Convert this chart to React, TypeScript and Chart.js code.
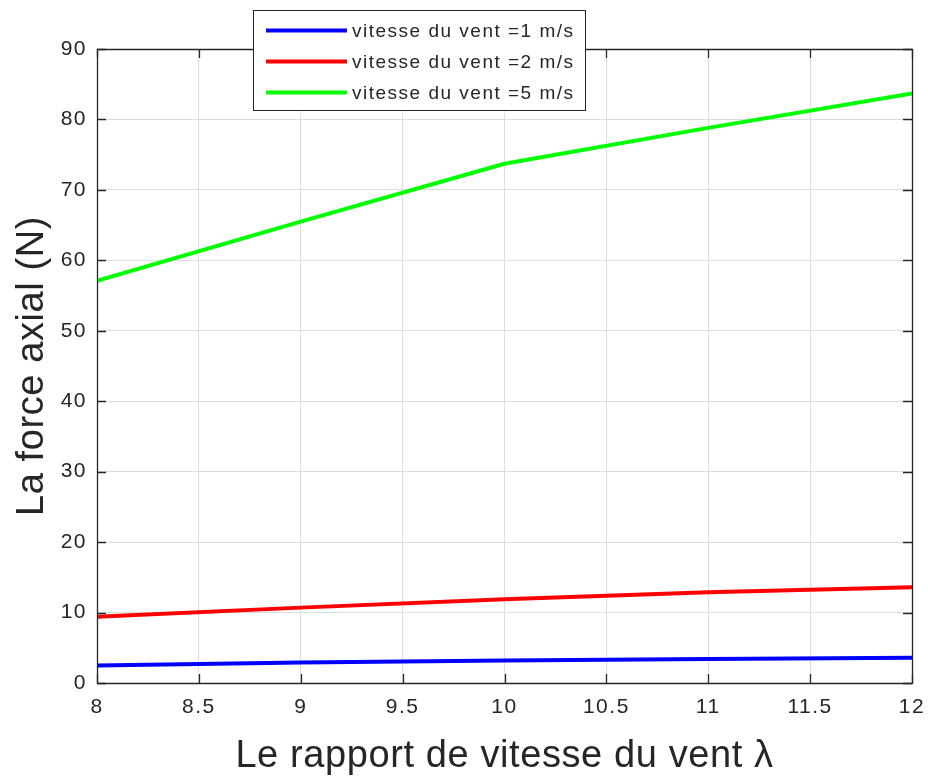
import React, { useEffect, useRef } from "react";
import { Chart, registerables } from "chart.js";

Chart.register(...registerables);

const lambdaValues = [8, 9, 10, 11, 12];
const force1 = [2.5, 2.9, 3.2, 3.4, 3.6];
const force2 = [9.4, 10.7, 11.9, 12.9, 13.6];
const force5 = [57.1, 65.5, 73.7, 78.8, 83.7];
const seriesLabels = ["vitesse du vent =1 m/s", "vitesse du vent =2 m/s", "vitesse du vent =5 m/s"];
const seriesColors = ["#0000ff", "#ff0000", "#00ff00"];
const xTitle = "Le rapport de vitesse du vent λ";
const yTitle = "La force axial (N)";

const FONT = "'Liberation Sans', Arial, Helvetica, sans-serif";
const TEXT = "#262626";

const boxPlugin = {
  id: "matlabBox",
  beforeDraw(chart: any) {
    (chart.ctx as any).letterSpacing = "1.5px";
  },
  afterDraw(chart: any) {
    const { ctx, chartArea } = chart;
    const { left, right, top, bottom } = chartArea;
    const xs = chart.scales.x;
    const ys = chart.scales.y;
    const tl = 9;
    ctx.save();
    ctx.strokeStyle = TEXT;
    ctx.lineWidth = 1.3;
    ctx.beginPath();
    ctx.rect(Math.round(left) + 0.5, Math.round(top) + 0.5, Math.round(right - left), Math.round(bottom - top));
    ctx.stroke();
    ctx.beginPath();
    xs.ticks.forEach((t: any) => {
      const px = Math.round(xs.getPixelForValue(t.value)) + 0.5;
      ctx.moveTo(px, bottom);
      ctx.lineTo(px, bottom - tl);
      ctx.moveTo(px, top);
      ctx.lineTo(px, top + tl);
    });
    ys.ticks.forEach((t: any) => {
      const py = Math.round(ys.getPixelForValue(t.value)) + 0.5;
      ctx.moveTo(left, py);
      ctx.lineTo(left + tl, py);
      ctx.moveTo(right, py);
      ctx.lineTo(right - tl, py);
    });
    ctx.stroke();

    // axis titles
    (ctx as any).letterSpacing = "0.6px";
    ctx.fillStyle = TEXT;
    ctx.font = `38px ${FONT}`;
    ctx.textAlign = "center";
    ctx.textBaseline = "alphabetic";
    ctx.fillText(xTitle, (left + right) / 2, 767);
    ctx.save();
    ctx.translate(43, (top + bottom) / 2);
    ctx.rotate(-Math.PI / 2);
    ctx.fillText(yTitle, 0, 0);
    ctx.restore();

    // legend
    const bx = 253, by = 10, bw = 332, bh = 100;
    ctx.fillStyle = "#ffffff";
    ctx.fillRect(bx, by, bw, bh);
    ctx.strokeStyle = TEXT;
    ctx.lineWidth = 1;
    ctx.strokeRect(bx + 0.5, by + 0.5, bw, bh);
    const rows = [30.5, 61.5, 92.5];
    (ctx as any).letterSpacing = "1.5px";
    chart.data.datasets.forEach((ds: any, i: number) => {
      ctx.strokeStyle = ds.borderColor;
      ctx.lineWidth = 4;
      ctx.beginPath();
      ctx.moveTo(266, rows[i]);
      ctx.lineTo(347, rows[i]);
      ctx.stroke();
      ctx.fillStyle = TEXT;
      ctx.font = `19px ${FONT}`;
      ctx.textBaseline = "middle";
      ctx.textAlign = "left";
      ctx.fillText(ds.label, 352, rows[i] + 1);
    });
    ctx.restore();
  },
};

export default function App() {
  const ref = useRef<HTMLCanvasElement>(null);
  useEffect(() => {
    document.body.style.margin = "0";
    const datasets = [force1, force2, force5].map((d, i) => ({
      label: seriesLabels[i],
      data: d.map((v, j) => ({ x: lambdaValues[j], y: v })),
      borderColor: seriesColors[i],
      backgroundColor: seriesColors[i],
      borderWidth: 4,
      pointRadius: 0,
      tension: 0,
    }));
    const chart = new Chart(ref.current!, {
      type: "line",
      data: { datasets },
      plugins: [boxPlugin],
      options: {
        animation: false,
        responsive: false,
        layout: { padding: { left: 0, top: 49, right: 16, bottom: 0 } },
        plugins: { legend: { display: false }, tooltip: { enabled: false } },
        scales: {
          x: {
            type: "linear",
            min: 8,
            max: 12,
            afterFit: (s: any) => { s.height = 95; s.paddingLeft = 0; s.paddingRight = 0; },
            ticks: { stepSize: 0.5, color: TEXT, font: { family: FONT, size: 21 }, padding: 12, maxRotation: 0, callback: (v: any) => String(v) },
            grid: { color: "#dddddd", drawTicks: false },
            border: { display: false },
            title: { display: false, text: xTitle },
          },
          y: {
            min: 0,
            max: 90,
            afterFit: (s: any) => { s.width = 97; s.paddingTop = 0; s.paddingBottom = 0; },
            ticks: { stepSize: 10, color: TEXT, font: { family: FONT, size: 21 }, padding: 10, callback: (v: any) => String(v) },
            grid: { color: "#dddddd", drawTicks: false },
            border: { display: false },
            title: { display: false, text: yTitle },
          },
        },
      },
    });
    return () => chart.destroy();
  }, []);
  return (
    <div style={{ position: "absolute", left: 0, top: 0, width: 928, height: 778, background: "#fff" }}>
      <canvas ref={ref} width={928} height={778} style={{ width: 928, height: 778 }} />
    </div>
  );
}
